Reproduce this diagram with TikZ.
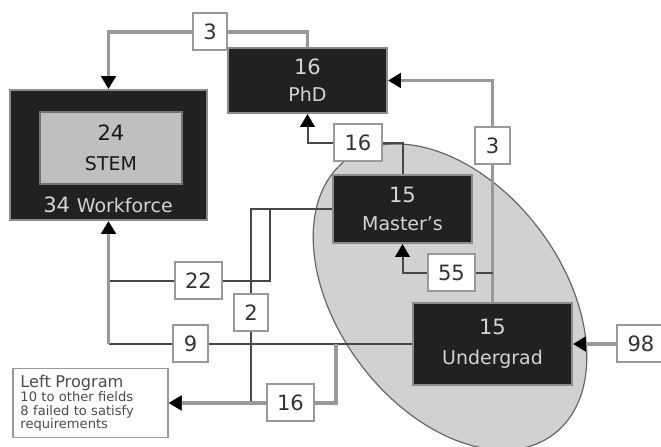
\documentclass[tikz,border=0pt]{standalone}
\usepackage{fontspec}
\setmainfont{DejaVu Sans}
\usetikzlibrary{arrows.meta}

\newcommand{\numfont}{\fontsize{15}{17}\selectfont}
\newcommand{\wordfont}{\fontsize{13.5}{16}\selectfont}

\begin{document}
\begin{tikzpicture}[x=0.25mm, y=-0.25mm,
  box/.style={draw=black!45, line width=0.5mm, fill=black!87, text=black!17, align=center, font=\numfont},
  num/.style={draw=black!40, fill=white, line width=0.5mm, text=black!80, font=\numfont,
    minimum width=8mm, minimum height=9.25mm, inner xsep=2.6mm, inner ysep=0pt},
  flow/.style={draw=black!40, line width=0.8mm},
  flowdark/.style={draw=black!72, line width=0.5mm},
  tip/.style={-{Triangle[length=3.2mm, width=3.6mm, color=black]}}]

  \useasboundingbox (0,0) rectangle (661,447);

  % pool around masters and undergrad
  \draw[fill=black!18, draw=black!60, line width=0.3mm, rotate around={-53:(450,297)}]
    (450,297) ellipse [x radius=43mm, y radius=28mm];

  % boxes
  \node[box, minimum width=49.25mm, minimum height=32.5mm] (wf) at (108.5,155) {};
  \node[draw=black!55, fill=black!25, text=black!90, line width=0.4mm, align=center, font=\numfont,
    minimum width=35.5mm, minimum height=18mm] (stem) at (111,148) {24\\[4pt]{\wordfont STEM}};
  \node[text=black!17, font=\numfont] (wftext) at (108,205) {34 {\wordfont Workforce}};
  \node[box, minimum width=39.75mm, minimum height=16.25mm] (phd) at (307.5,80.5) {16\\[2pt]{\wordfont PhD}};
  \node[box, minimum width=34.75mm, minimum height=17mm] (ms) at (402.5,209) {15\\[3pt]{\wordfont Master's}};
  \node[box, minimum width=39.75mm, minimum height=20.5mm] (ug) at (492.5,344) {15\\[4pt]{\wordfont Undergrad}};
  \node[draw=black!40, fill=white, line width=0.4mm, minimum width=38.75mm, minimum height=17.25mm,
    text width=35mm, align=left, text=black!70, font=\fontsize{9.3}{9.4}\selectfont]
    (left) at (90.5,403) {{\fontsize{11.5}{12.5}\selectfont Left Program}\\10 to other fields\\8 failed to satisfy\\requirements};

  % counts
  \node[num] (lA) at (210,32) {3};
  \node[num] (lB) at (492.5,146) {3};
  \node[num] (lC) at (358,143) {16};
  \node[num] (lD) at (451.5,273) {55};
  \node[num] (lE) at (198.5,281) {22};
  \node[num] (lF) at (251,312.5) {2};
  \node[num] (lG) at (190.5,344) {9};
  \node[num] (lH) at (290.5,403) {16};
  \node[num] (lI) at (641,344) {98};

  \coordinate (j22) at (270,281);
  \coordinate (j16) at (336,344);
  \coordinate (wfin) at (lG.west -| wf.south);

  % flows
  \draw[flow] (phd.north) |- (lA.east);
  \draw[flow,tip] (lA.west) -| (wf.north);
  \draw[flow] (ug.north) -- (lB.south);
  \draw[flow,tip] (lB.north) |- (phd.east);
  \draw[flowdark] (lD.east) -- (lD.east -| ug.north);
  \draw[flowdark,tip] (lD.west) -| (ms.south);
  \draw[flowdark] (ms.north) |- (lC.east);
  \draw[flowdark,tip] (lC.west) -| (phd.south);
  \draw[flowdark] (ms.west) -| (j22) -- (lE.east);
  \draw[flowdark] (lE.west) -- (lE.west -| wf.south);
  \draw[flowdark] (ug.west) -- (lG.east);
  \draw[flowdark] (lG.west) -- (wfin);
  \draw[flow,tip] (wfin) -- (wf.south);
  \draw[flowdark] (ms.west) -| (lF.north);
  \draw[flowdark,tip] (lF.south) |- (left.east);
  \draw[flow] (j16) |- (lH.east);
  \draw[flow,tip] (lH.west) -- (left.east);
  \draw[flow,tip] (lI.west) -- (ug.east);

\end{tikzpicture}
\end{document}
